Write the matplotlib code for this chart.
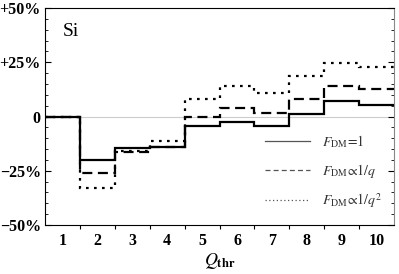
import numpy as np
import matplotlib
matplotlib.use("Agg")
import matplotlib.pyplot as plt
from matplotlib.lines import Line2D

plt.rcParams["font.family"] = ["Liberation Serif", "DejaVu Serif"]
plt.rcParams["mathtext.fontset"] = "stix"

# percent change per threshold bin Q_thr = 1..10
q_thr = [1, 2, 3, 4, 5, 6, 7, 8, 9, 10]
f_one = [0, -20, -14.4, -14, -4.4, -2.4, -4.3, 1.2, 7.2, 5.5]
f_inv_q = [0, -26, -16.3, -14.2, 0, 3.8, 1.5, 8, 14.1, 12.6]
f_inv_q2 = [0, -33, -16, -11.3, 8, 14.1, 10.7, 18.6, 24.6, 23]

ytick_vals = [50, 25, 0, -25, -50]
ytick_labels = ["+50%", "+25%", "0", "\u221225%", "\u221250%"]

edges = np.arange(len(q_thr) + 1) + 0.5

fig = plt.figure(figsize=(3.99, 2.74), dpi=100)
ax = fig.add_axes([0.1128, 0.1788, 0.875, 0.7920])

ax.axhline(0, color="#cccccc", lw=0.8, zorder=0)
ax.stairs(f_one, edges, color="black", lw=1.6, ls="-", baseline=None)
ax.stairs(f_inv_q, edges, color="black", lw=1.6, ls=(0, (4.5, 2.5)), baseline=None)
ax.stairs(f_inv_q2, edges, color="black", lw=1.6, ls=(0, (1.2, 2.4)), baseline=None)

ax.set_xlim(0.5, 10.5)
ax.set_ylim(-50, 50)

ax.set_yticks(ytick_vals)
ax.set_yticklabels(ytick_labels, fontweight="bold", fontsize=11.5)
ax.set_yticks(np.arange(-50, 51, 5), minor=True)
ax.tick_params(axis="y", which="both", direction="in", right=True, labelright=False, pad=3)
ax.tick_params(axis="y", which="major", length=4, width=0.8)
ax.tick_params(axis="y", which="minor", length=2, width=0.6)

ax.set_xticks(q_thr)
ax.set_xticklabels([str(q) for q in q_thr], fontweight="bold", fontsize=11.5)
ax.set_xticks(edges[1:-1], minor=True)
ax.tick_params(axis="x", which="major", length=0, pad=6)
ax.tick_params(axis="x", which="minor", direction="out", length=3, width=0.8)

for s in ax.spines.values():
    s.set_linewidth(0.8)
ax.spines["right"].set_color("#888888")

ax.set_xlabel(r"$Q_{\mathbf{thr}}$", fontsize=13, labelpad=1)

ax.text(1.0, 37, "Si", fontsize=14)

handles = [
    Line2D([], [], color="#555555", lw=0.9, ls="-"),
    Line2D([], [], color="#555555", lw=0.9, ls=(0, (4, 2.5))),
    Line2D([], [], color="#555555", lw=0.9, ls=(0, (1, 2))),
]
labels = [r"$F_{\rm DM}\!=\!1$", r"$F_{\rm DM}\!\propto\!1/q$", r"$F_{\rm DM}\!\propto\!1/q^2$"]
leg = ax.legend(handles, labels, loc="lower right", frameon=False, fontsize=10,
                handlelength=3.3, labelspacing=0.85, handletextpad=0.8,
                bbox_to_anchor=(1.0, 0.01))
for t in leg.get_texts():
    t.set_color("#333333")

fig.savefig("out.png", dpi=100)
